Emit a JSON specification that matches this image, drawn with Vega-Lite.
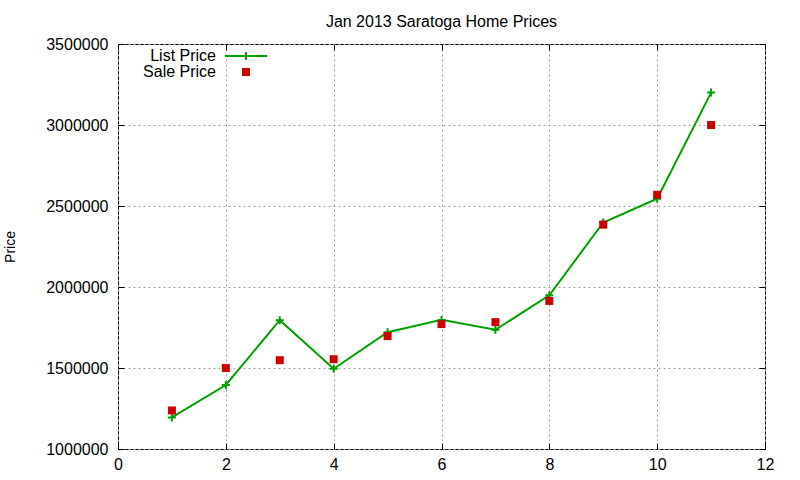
{
  "$schema": "https://vega.github.io/schema/vega-lite/v6.json",
  "width": 647,
  "height": 405,
  "autosize": "none",
  "padding": {"left": 118, "top": 44, "right": 35, "bottom": 31},
  "background": "white",
  "title": {"text": "Jan 2013 Saratoga Home Prices", "font": "Liberation Sans", "fontSize": 16, "fontWeight": "normal", "color": "black", "anchor": "middle", "frame": "group", "offset": 6},
  "config": {
    "view": {"stroke": "black", "strokeWidth": 1},
    "axis": {"labelFont": "Liberation Sans", "labelFontSize": 16, "labelColor": "black", "titleFont": "Liberation Sans", "titleColor": "black", "titleFontWeight": "normal", "domain": false, "tickColor": "black", "tickSize": -6, "tickWidth": 1, "gridColor": "#a0a0a0", "gridDash": [2, 3], "gridOpacity": 1, "gridWidth": 1}
  },
  "data": {"values": [
    {"x": 1, "series": "List Price", "price": 1195000},
    {"x": 2, "series": "List Price", "price": 1395000},
    {"x": 3, "series": "List Price", "price": 1795000},
    {"x": 4, "series": "List Price", "price": 1495000},
    {"x": 5, "series": "List Price", "price": 1721000},
    {"x": 6, "series": "List Price", "price": 1797000},
    {"x": 7, "series": "List Price", "price": 1736000},
    {"x": 8, "series": "List Price", "price": 1949000},
    {"x": 9, "series": "List Price", "price": 2398000},
    {"x": 10, "series": "List Price", "price": 2545000},
    {"x": 11, "series": "List Price", "price": 3200000},
    {"x": 1, "series": "Sale Price", "price": 1238000},
    {"x": 2, "series": "Sale Price", "price": 1500000},
    {"x": 3, "series": "Sale Price", "price": 1548000},
    {"x": 4, "series": "Sale Price", "price": 1554000},
    {"x": 5, "series": "Sale Price", "price": 1697000},
    {"x": 6, "series": "Sale Price", "price": 1771000},
    {"x": 7, "series": "Sale Price", "price": 1783000},
    {"x": 8, "series": "Sale Price", "price": 1914000},
    {"x": 9, "series": "Sale Price", "price": 2385000},
    {"x": 10, "series": "Sale Price", "price": 2569000},
    {"x": 11, "series": "Sale Price", "price": 3000000}
  ]},
  "layer": [
    {
      "transform": [{"filter": "datum.series === 'List Price'"}],
      "mark": {"type": "line", "color": "#00a000", "strokeWidth": 2},
      "encoding": {
        "x": {"field": "x", "type": "quantitative", "scale": {"domain": [0, 12], "nice": false, "zero": false},
              "axis": {"orient": "bottom", "values": [0, 2, 4, 6, 8, 10, 12], "format": "d", "title": null, "grid": true, "labelPadding": 13, "labelFlush": false}},
        "y": {"field": "price", "type": "quantitative", "scale": {"domain": [1000000, 3500000], "nice": false, "zero": false},
              "axis": {"orient": "left", "values": [1000000, 1500000, 2000000, 2500000, 3000000, 3500000], "format": "d", "title": "Price", "titleFontSize": 14, "titlePadding": 28, "grid": true, "labelPadding": 16}}
      }
    },
    {
      "transform": [{"filter": "datum.series === 'List Price'"}],
      "mark": {"type": "point", "shape": "M-1,0H1M0,-1V1", "size": 64, "strokeWidth": 2, "filled": false, "color": "#00a000", "opacity": 1},
      "encoding": {
        "x": {"field": "x", "type": "quantitative",
              "axis": {"orient": "top", "values": [0, 2, 4, 6, 8, 10, 12], "labels": false, "title": null, "grid": false}},
        "y": {"field": "price", "type": "quantitative",
              "axis": {"orient": "right", "values": [1000000, 1500000, 2000000, 2500000, 3000000, 3500000], "labels": false, "title": null, "grid": false}}
      }
    },
    {
      "transform": [{"filter": "datum.series === 'Sale Price'"}],
      "mark": {"type": "point", "size": 64, "strokeWidth": 2, "opacity": 1},
      "encoding": {
        "x": {"field": "x", "type": "quantitative", "axis": null},
        "y": {"field": "price", "type": "quantitative", "axis": null},
        "shape": {"field": "series", "type": "nominal", "scale": {"domain": ["List Price", "Sale Price"], "range": ["M-5.25,0H5.25M0,-1V1", "square"]}, "legend": {"title": null}},
        "stroke": {"field": "series", "type": "nominal", "scale": {"domain": ["List Price", "Sale Price"], "range": ["#00a000", "transparent"]}, "legend": {"title": null}},
        "fill": {"field": "series", "type": "nominal", "scale": {"domain": ["List Price", "Sale Price"], "range": ["transparent", "#cc0000"]},
                 "legend": {"title": null, "orient": "none", "legendX": 120, "legendY": 4, "padding": 0, "labelFont": "Liberation Sans", "labelFontSize": 16, "labelColor": "black", "labelAlign": "right", "labelOffset": -38, "rowPadding": 0, "symbolStrokeWidth": 2, "symbolSize": 64, "symbolOpacity": 1}}
      }
    }
  ],
  "resolve": {"axis": {"x": "independent", "y": "independent"}}
}
